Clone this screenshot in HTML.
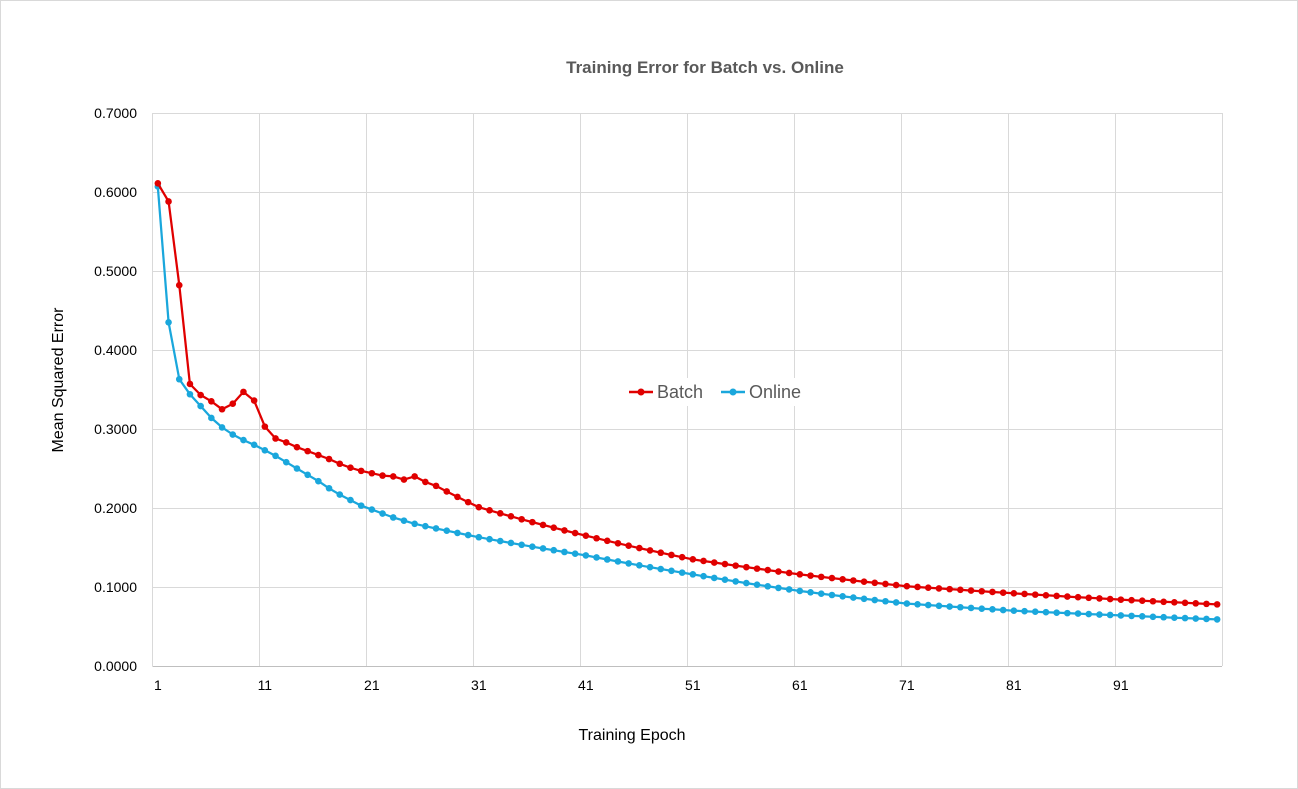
<!DOCTYPE html>
<html><head><meta charset="utf-8"><style>
html,body{margin:0;padding:0;background:#fff;}
svg{display:block;font-family:"Liberation Sans",sans-serif;}
</style></head><body>
<svg id="s" width="1298" height="789" xmlns="http://www.w3.org/2000/svg">
<rect x="0.5" y="0.5" width="1297" height="788" fill="#fff" stroke="#d9d9d9"/>
<text x="705" y="73" text-anchor="middle" font-size="17" font-weight="bold" fill="#595959">Training  Error  for Batch vs. Online</text>
<g id="grid" stroke="#d9d9d9" stroke-width="1"></g>
<g id="ylab" font-size="14" fill="#000" text-anchor="end"></g>
<g id="xlab" font-size="14" fill="#000" text-anchor="middle"></g>
<text x="632" y="740" text-anchor="middle" font-size="16" fill="#000">Training Epoch</text>
<text transform="translate(63,380) rotate(-90)" text-anchor="middle" font-size="16" fill="#000">Mean Squared Error</text>
<g id="series"></g>
<g>
<rect x="622" y="378" width="190" height="28" fill="#fff"/>
<line x1="629" y1="392" x2="653" y2="392" stroke="#e00000" stroke-width="2.5"/><circle cx="641" cy="392" r="3.5" fill="#e00000"/>
<text x="657" y="398" font-size="18" fill="#595959">Batch</text>
<line x1="721" y1="392" x2="745" y2="392" stroke="#1aa7dc" stroke-width="2.5"/><circle cx="733" cy="392" r="3.5" fill="#1aa7dc"/>
<text x="749" y="398" font-size="18" fill="#595959">Online</text>
</g>
</svg>
<script>
var ns="http://www.w3.org/2000/svg";
function el(p,t,a){var e=document.createElementNS(ns,t);for(var k in a)e.setAttribute(k,a[k]);p.appendChild(e);return e;}
var g=document.getElementById('grid'),yl=document.getElementById('ylab'),xl=document.getElementById('xlab');
var L=152.5,R=1222,T=113,B=666;
for(var i=0;i<=7;i++){var y=B-i*79;el(g,'line',{x1:L,x2:R,y1:y+0.5,y2:y+0.5});var t=el(yl,'text',{x:137,y:y+5});t.textContent=(i/10).toFixed(4);}
for(var k=0;k<=10;k++){var x=L+k*107;el(g,'line',{x1:x,x2:x,y1:T,y2:B});}
el(g,'line',{x1:L,x2:R,y1:B+0.5,y2:B+0.5,stroke:'#bfbfbf'});
for(var k=0;k<10;k++){var t=el(xl,'text',{x:L+(k*10+0.5)*10.7,y:690});t.textContent=k*10+1;}
function interp(head,anchors){var d=head.slice();for(var i=head.length+1;i<=100;i++){for(var j=0;j<anchors.length-1;j++){var a=anchors[j],b=anchors[j+1];if(i>=a[0]&&i<=b[0]){var f=(i-a[0])/(b[0]-a[0]);d.push(a[1]*Math.pow(b[1]/a[1],f));break;}}}return d;}
var batch=interp([0.611,0.588,0.482,0.357,0.343,0.335,0.325,0.332,0.347,0.336,0.303,0.288,0.283,0.277,0.272,0.267,0.262,0.256,0.251,0.247,0.244,0.241,0.240,0.236,0.240,0.233,0.228],[[27,0.228],[31,0.201],[41,0.165],[51,0.135],[61,0.116],[71,0.101],[81,0.092],[91,0.084],[100,0.078]]);
var online=interp([0.607,0.435,0.363,0.344,0.329,0.314,0.302,0.293,0.286,0.280,0.273,0.266,0.258,0.250,0.242,0.234,0.225,0.217,0.210,0.203,0.198,0.193,0.188,0.184,0.180,0.177],[[26,0.177],[31,0.163],[41,0.140],[51,0.116],[61,0.095],[71,0.079],[81,0.070],[91,0.064],[100,0.059]]);
var s=document.getElementById('series');
function draw(d,c){var pts=d.map(function(v,i){return [L+(i+0.5)*10.7,B-v*790];});
el(s,'polyline',{points:pts.map(function(p){return p[0].toFixed(1)+','+p[1].toFixed(1)}).join(' '),fill:'none',stroke:c,'stroke-width':2.25,'stroke-linejoin':'round'});
pts.forEach(function(p){el(s,'circle',{cx:p[0],cy:p[1],r:3.3,fill:c});});}
draw(online,'#1aa7dc');draw(batch,'#e00000');
</script>
</body></html>
